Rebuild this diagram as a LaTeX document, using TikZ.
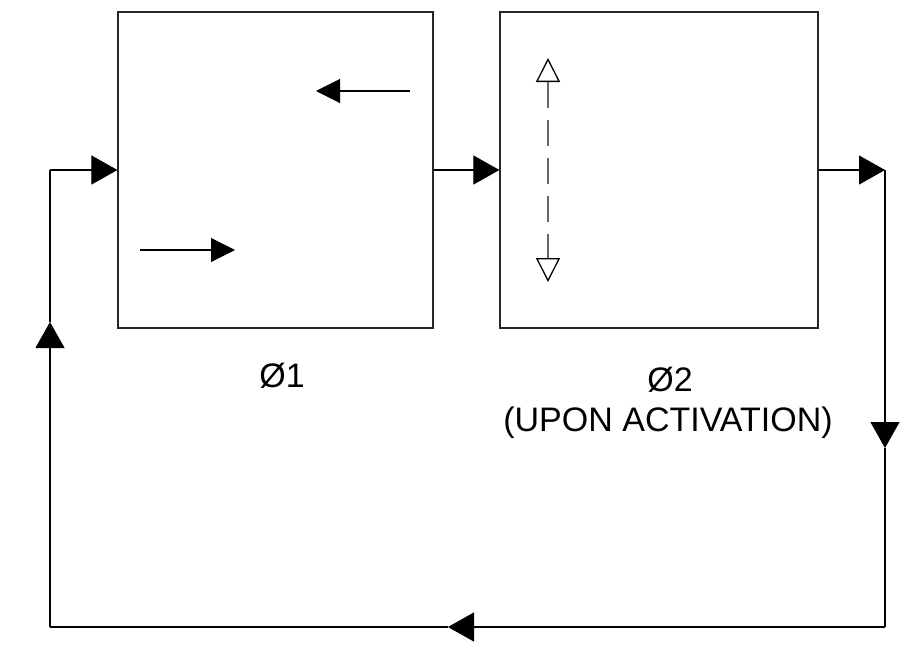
\documentclass[tikz,border=0pt]{standalone}
\usepackage{fontspec}
\setmainfont{Liberation Sans}
\usetikzlibrary{positioning, arrows.meta}

\begin{document}
\begin{tikzpicture}[
    x=1pt, y=-1pt,
    >={Triangle[length=26pt, width=29pt]},
    blockbox/.style={
      draw=black!85,
      line width=1.2pt,
      minimum height=316pt,
      inner sep=0pt
    },
    flow/.style={->, line width=1.1pt},
    innerarrow/.style={-{Triangle[length=24pt, width=24pt]}, line width=1.1pt},
    swing/.style={
      {Triangle[open, length=24pt, width=24pt, line width=1.3pt, color=black]}-{Triangle[open, length=24pt, width=24pt, line width=1.3pt, color=black]},
      draw=black!60, line width=1.8pt, dash pattern=on 26pt off 12pt
    },
    phase/.style={font=\fontsize{34}{40}\selectfont, inner sep=0pt, anchor=base}
  ]
    \useasboundingbox (0,0) rectangle (900,646);

    % the two chambers
    \node[blockbox, minimum width=315pt] (chamberA) at (275.5,170) {};
    \node[blockbox, minimum width=318pt] (chamberB) at (659,170)   {};

    % labels
    \node[phase] (phiA)   at (282,387) {Ø1};
    \node[phase] (phiB)   at (670,391) {Ø2};
    \node[phase] (upon)   at (668,431) {(UPON ACTIVATION)};

    % loop corners and mid arrows
    \coordinate (lt) at (50,170);
    \coordinate (lb) at (50,627);
    \coordinate (rt) at (885,170);
    \coordinate (rb) at (885,627);
    \coordinate (rmid) at (885,448);
    \coordinate (bmid) at (448,627);
    \coordinate (lmid) at (50,322);

    \draw[flow] (lt) -- (chamberA.west);
    \draw[flow] (chamberA.east) -- (chamberB.west);
    \draw[flow] (chamberB.east) -- (rt);
    \draw[flow] (rt) -- (rmid);
    \draw[line width=1.1pt] (rmid) -- (rb);
    \draw[flow] (rb) -- (bmid);
    \draw[line width=1.1pt] (bmid) -- (lb);
    \draw[flow] (lb) -- (lmid);
    \draw[line width=1.1pt] (lmid) -- (lt);

    % flows inside chamber A
    \coordinate (backS) at (410,91);
    \coordinate (backE) at (316,91);
    \coordinate (fwdS)  at (140,250);
    \coordinate (fwdE)  at (235,250);
    \draw[innerarrow] (backS) -- (backE);
    \draw[innerarrow] (fwdS) -- (fwdE);

    % movement inside chamber B
    \coordinate (swingT) at (548,58);
    \coordinate (swingB) at (548,282);
    \draw[swing] (swingT) -- (swingB);
\end{tikzpicture}
\end{document}
